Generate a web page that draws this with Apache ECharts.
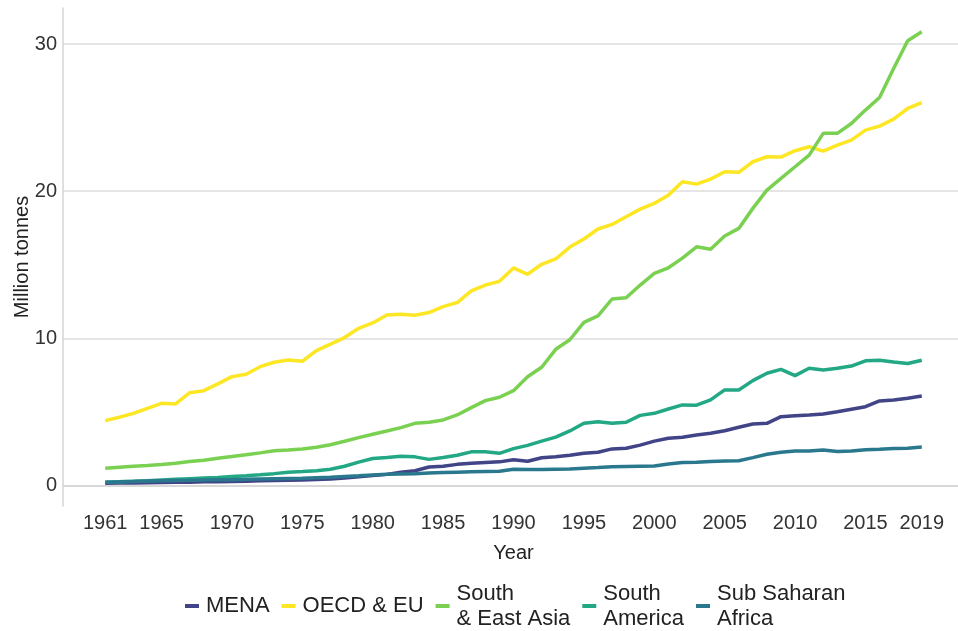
<!DOCTYPE html>
<html>
<head>
<meta charset="utf-8">
<script src="https://cdn.jsdelivr.net/npm/echarts@6/dist/echarts.min.js"></script>
<style>
html,body{margin:0;padding:0;background:#fff;}
#chart{width:958px;height:631px;}
</style>
</head>
<body>
<div id="chart"></div>
<script>
const years = [];
for (let y = 1961; y <= 2019; y++) years.push(y);

const xTicks = [1961, 1965, 1970, 1975, 1980, 1985, 1990, 1995, 2000, 2005, 2010, 2015, 2019];
const yTicks = [0, 10, 20, 30];

const seriesNames = ['MENA', 'OECD & EU', 'South\n& East Asia', 'South\nAmerica', 'Sub Saharan\nAfrica'];
const seriesColors = ['#414487', '#FDE725', '#7AD151', '#22A884', '#2A788E'];

const mena = [0.15,0.16,0.17,0.18,0.20,0.21,0.22,0.24,0.25,0.27,
  0.29,0.31,0.33,0.35,0.37,0.40,0.43,0.50,0.58,0.67,
  0.75,0.90,1.00,1.25,1.30,1.43,1.50,1.55,1.60,1.75,
  1.64,1.88,1.94,2.05,2.19,2.25,2.48,2.52,2.74,3.01,
  3.20,3.27,3.43,3.54,3.72,3.95,4.17,4.22,4.67,4.74,
  4.79,4.86,5.01,5.18,5.35,5.74,5.81,5.92,6.08];
const oecd = [4.40,4.63,4.90,5.24,5.58,5.54,6.30,6.44,6.90,7.39,
  7.55,8.07,8.37,8.53,8.44,9.16,9.60,10.05,10.68,11.04,
  11.58,11.64,11.57,11.75,12.15,12.43,13.22,13.62,13.87,14.78,
  14.35,15.03,15.39,16.20,16.75,17.43,17.74,18.26,18.78,19.17,
  19.73,20.64,20.48,20.82,21.32,21.28,22.00,22.34,22.32,22.75,
  23.02,22.72,23.13,23.47,24.15,24.42,24.90,25.62,26.01];
const seAsia = [1.17,1.24,1.31,1.35,1.42,1.51,1.62,1.71,1.85,1.96,
  2.08,2.21,2.35,2.41,2.48,2.60,2.76,3.00,3.25,3.48,
  3.70,3.93,4.22,4.29,4.45,4.79,5.29,5.76,5.99,6.44,
  7.39,8.03,9.25,9.90,11.08,11.52,12.67,12.76,13.62,14.41,
  14.79,15.45,16.22,16.05,16.95,17.47,18.83,20.07,20.87,21.66,
  22.45,23.93,23.93,24.60,25.51,26.37,28.34,30.22,30.83];
const sAmerica = [0.22,0.25,0.28,0.32,0.37,0.42,0.46,0.50,0.54,0.60,
  0.65,0.72,0.80,0.90,0.94,1.00,1.10,1.30,1.58,1.83,
  1.89,1.98,1.94,1.77,1.89,2.05,2.28,2.28,2.18,2.50,
  2.72,3.01,3.28,3.70,4.22,4.33,4.22,4.29,4.76,4.90,
  5.19,5.47,5.45,5.81,6.49,6.49,7.12,7.62,7.89,7.46,
  7.96,7.85,7.96,8.11,8.47,8.51,8.39,8.29,8.51];
const subSaharan = [0.22,0.24,0.27,0.30,0.32,0.34,0.35,0.37,0.38,0.39,
  0.41,0.43,0.45,0.47,0.49,0.52,0.55,0.60,0.65,0.71,
  0.75,0.78,0.80,0.84,0.87,0.90,0.92,0.94,0.96,1.10,
  1.08,1.08,1.10,1.12,1.17,1.21,1.26,1.28,1.30,1.32,
  1.46,1.55,1.58,1.62,1.66,1.68,1.89,2.12,2.25,2.34,
  2.34,2.41,2.30,2.34,2.43,2.46,2.50,2.52,2.61];

const allValues = [mena, oecd, seAsia, sAmerica, subSaharan];
const FONT = 'Liberation Sans, Arial, sans-serif';

const chart = echarts.init(document.getElementById('chart'), null, {renderer: 'canvas'});
chart.setOption({
  backgroundColor: '#ffffff',
  animation: false,
  grid: {left: 63, right: -6, top: 8, bottom: 125, containLabel: false, outerBoundsMode: 'none'},
  legend: {
    left: 180,
    top: 576,
    orient: 'horizontal',
    icon: 'rect',
    itemWidth: 14,
    itemHeight: 4,
    itemGap: 12,
    textStyle: {fontFamily: FONT, fontSize: 22, color: '#222', lineHeight: 25, padding: [0, 0, 0, 2]},
    data: seriesNames
  },
  xAxis: {
    type: 'value',
    min: 1958,
    max: 2022,
    name: 'Year',
    nameLocation: 'middle',
    nameGap: 37,
    nameMoveOverlap: false,
    nameTextStyle: {fontFamily: FONT, fontSize: 20, color: '#222'},
    axisLine: {show: true, lineStyle: {color: '#d4d4d4', width: 1.5}},
    axisTick: {show: false, customValues: xTicks},
    axisLabel: {customValues: xTicks, fontFamily: FONT, fontSize: 20, color: '#333', margin: 7, formatter: v => String(v)},
    splitLine: {show: false}
  },
  yAxis: {
    type: 'value',
    min: -1.4,
    max: 32.45,
    name: 'Million tonnes',
    nameLocation: 'middle',
    nameGap: 31,
    nameMoveOverlap: false,
    nameTextStyle: {fontFamily: FONT, fontSize: 20, color: '#222'},
    axisLine: {show: true, lineStyle: {color: '#d4d4d4', width: 1.5}},
    axisTick: {show: false, customValues: yTicks},
    axisLabel: {customValues: yTicks, fontFamily: FONT, fontSize: 20, color: '#333', margin: 6},
    splitLine: {show: true, lineStyle: {color: '#dcdcdc', width: 1.5}}
  },
  series: seriesNames.map((name, i) => ({
    name: name,
    type: 'line',
    showSymbol: false,
    symbol: 'none',
    color: seriesColors[i],
    lineStyle: {width: 3.5, color: seriesColors[i]},
    data: years.map((y, j) => [y, allValues[i][j]])
  }))
});
</script>
</body>
</html>
